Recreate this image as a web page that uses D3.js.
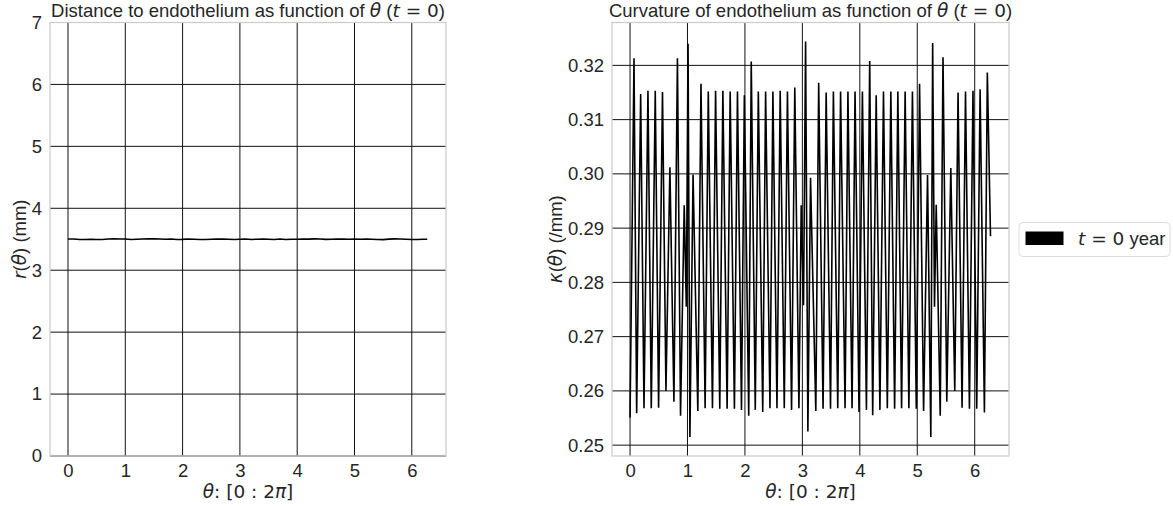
<!DOCTYPE html>
<html><head><meta charset="utf-8">
<script src="https://cdn.jsdelivr.net/npm/d3@7"></script>
<style>
html,body{margin:0;padding:0;background:#fff;}
svg{display:block;}
text{font-family:"Liberation Sans",Arial,sans-serif;fill:#262626;}
.m{font-family:"DejaVu Sans",sans-serif;}
</style></head>
<body>
<svg id="c" width="1173" height="506"></svg>
<script>
// ---- data ----
const xTicks = [0,1,2,3,4,5,6];
const rTicks = [0,1,2,3,4,5,6,7];
const kTicks = [0.25,0.26,0.27,0.28,0.29,0.30,0.31,0.32];

// left panel: r(theta), nearly flat at ~3.5 mm
const rTheta = [0.00,0.10,0.20,0.30,0.40,0.50,0.60,0.70,0.80,0.90,1.00,1.10,1.20,1.30,1.40,1.50,1.60,1.70,1.80,1.90,2.00,2.10,2.20,2.30,2.40,2.50,2.60,2.70,2.80,2.90,3.00,3.10,3.20,3.30,3.40,3.50,3.60,3.70,3.80,3.90,4.00,4.10,4.20,4.30,4.40,4.50,4.60,4.70,4.80,4.90,5.00,5.10,5.20,5.30,5.40,5.50,5.60,5.70,5.80,5.90,6.00,6.10,6.20,6.27];
const rValue = [3.505,3.503,3.497,3.495,3.500,3.496,3.497,3.503,3.508,3.504,3.504,3.497,3.501,3.505,3.506,3.508,3.505,3.500,3.503,3.497,3.498,3.503,3.501,3.497,3.495,3.499,3.505,3.502,3.500,3.496,3.500,3.505,3.497,3.501,3.505,3.500,3.496,3.503,3.497,3.501,3.500,3.503,3.502,3.506,3.504,3.498,3.500,3.504,3.502,3.499,3.502,3.500,3.505,3.500,3.496,3.494,3.502,3.506,3.503,3.500,3.497,3.496,3.500,3.500];

// right panel: kappa(theta), alternating troughs/peaks
const kTheta = [0.00,0.069,0.115,0.185,0.243,0.312,0.370,0.439,0.497,0.565,0.625,0.694,0.764,0.825,0.879,0.943,0.980,1.010,1.042,1.097,1.180,1.235,1.307,1.362,1.435,1.489,1.562,1.616,1.690,1.743,1.817,1.870,1.940,1.990,2.066,2.110,2.180,2.233,2.310,2.360,2.436,2.487,2.558,2.614,2.685,2.740,2.812,2.868,2.940,2.980,3.020,3.056,3.096,3.142,3.234,3.284,3.360,3.414,3.490,3.540,3.616,3.665,3.743,3.793,3.865,3.917,3.986,4.045,4.115,4.172,4.224,4.285,4.350,4.412,4.479,4.540,4.606,4.662,4.727,4.789,4.854,4.916,4.983,5.040,5.110,5.179,5.236,5.268,5.300,5.330,5.400,5.448,5.514,5.584,5.653,5.710,5.780,5.840,5.908,5.970,6.035,6.094,6.169,6.220,6.275];
const kValue = [0.2551,0.3213,0.2559,0.3147,0.2568,0.3153,0.2568,0.3153,0.2569,0.3151,0.2600,0.3012,0.2580,0.3213,0.2554,0.2942,0.2755,0.3240,0.2515,0.2999,0.2563,0.3166,0.2568,0.3152,0.2568,0.3153,0.2567,0.3153,0.2567,0.3152,0.2567,0.3152,0.2565,0.3145,0.2554,0.3207,0.2565,0.3152,0.2561,0.3152,0.2568,0.3152,0.2568,0.3153,0.2568,0.3152,0.2565,0.3159,0.2568,0.2942,0.2758,0.3244,0.2525,0.2993,0.2563,0.3168,0.2567,0.3150,0.2567,0.3152,0.2568,0.3152,0.2568,0.3152,0.2568,0.3152,0.2561,0.3152,0.2565,0.3208,0.2555,0.3145,0.2565,0.3152,0.2568,0.3152,0.2567,0.3152,0.2568,0.3152,0.2568,0.3152,0.2567,0.3166,0.2563,0.2998,0.2515,0.3241,0.2755,0.2943,0.2554,0.3215,0.2580,0.3011,0.2600,0.3150,0.2569,0.3152,0.2567,0.3153,0.2567,0.3156,0.2560,0.3187,0.2885];

// ---- drawing ----
const svg = d3.select("#c");
const yTop = 22.5, yBottom = 456;
const xDom = [-0.314, 6.597];
const FS = 18.5;

function panel(x0, x1, yScale, yTicks, yFmt, thetaArr, valArr, title, ylabelParts, ylabelX) {
  const x = d3.scaleLinear().domain(xDom).range([x0, x1]);
  const g = svg.append("g");
  g.selectAll(".gx").data(xTicks).join("line")
    .attr("x1", d => x(d)).attr("x2", d => x(d)).attr("y1", yTop).attr("y2", yBottom)
    .attr("stroke", "#111").attr("stroke-width", 1);
  g.selectAll(".gy").data(yTicks).join("line")
    .attr("x1", x0).attr("x2", x1).attr("y1", d => yScale(d)).attr("y2", d => yScale(d))
    .attr("stroke", "#111").attr("stroke-width", 1);
  g.append("rect").attr("x", x0).attr("y", yTop).attr("width", x1 - x0).attr("height", yBottom - yTop)
    .attr("fill", "none").attr("stroke", "#cccccc").attr("stroke-width", 1.25);
  const line = d3.line().x((d, i) => x(thetaArr[i])).y(d => yScale(d));
  g.append("path").datum(valArr).attr("d", line).attr("fill", "none")
    .attr("stroke", "#000").attr("stroke-width", 1.6).attr("stroke-linejoin", "miter").attr("stroke-miterlimit", 3);
  const ax = g.append("g").attr("transform", `translate(0,${yBottom})`)
    .call(d3.axisBottom(x).tickValues(xTicks).tickSize(0).tickPadding(8).tickFormat(d3.format("d")));
  ax.select(".domain").remove();
  ax.selectAll("text").attr("font-size", FS).attr("font-family", "Liberation Sans, Arial, sans-serif").attr("fill", "#262626");
  const ay = g.append("g").attr("transform", `translate(${x0},0)`)
    .call(d3.axisLeft(yScale).tickValues(yTicks).tickSize(0).tickPadding(8).tickFormat(yFmt));
  ay.select(".domain").remove();
  ay.selectAll("text").attr("font-size", FS).attr("font-family", "Liberation Sans, Arial, sans-serif").attr("fill", "#262626");
  const t = g.append("text").attr("x", (x0 + x1) / 2).attr("y", 17).attr("text-anchor", "middle").attr("font-size", 18.5);
  t.append("tspan").text(title);
  t.append("tspan").attr("class", "m").attr("font-style", "italic").text("θ");
  t.append("tspan").text(" (");
  t.append("tspan").attr("class", "m").attr("font-style", "italic").text("t");
  t.append("tspan").attr("class", "m").text(" = 0");
  t.append("tspan").text(")");
  const xl = g.append("text").attr("x", (x0 + x1) / 2).attr("y", 498).attr("text-anchor", "middle").attr("font-size", FS);
  xl.append("tspan").attr("class", "m").attr("font-style", "italic").text("θ");
  xl.append("tspan").attr("class", "m").text(": [0 : 2");
  xl.append("tspan").attr("class", "m").attr("font-style", "italic").text("π");
  xl.append("tspan").attr("class", "m").text("]");
  const yl = g.append("text").attr("transform", `translate(${ylabelX},${(yTop + yBottom) / 2}) rotate(-90)`)
    .attr("text-anchor", "middle").attr("font-size", FS);
  ylabelParts.forEach(p => {
    const s = yl.append("tspan").text(p[0]);
    if (p[1]) s.attr("class", "m").attr("font-style", "italic");
  });
}

const yR = d3.scaleLinear().domain([0, 7]).range([yBottom, yTop]);
panel(50, 446, yR, rTicks, d3.format("d"), rTheta, rValue,
  "Distance to endothelium as function of ", [["r", 1], ["(", 0], ["θ", 1], [") (mm)", 0]], 26);

const yK = d3.scaleLinear().domain([0.2480, 0.3279]).range([yBottom, yTop]);
panel(612, 1009, yK, kTicks, d3.format(".2f"), kTheta, kValue,
  "Curvature of endothelium as function of ", [["κ", 1], ["(", 0], ["θ", 1], [") (/mm)", 0]], 562);

const lg = svg.append("g");
lg.append("rect").attr("x", 1019).attr("y", 222.5).attr("width", 151).attr("height", 34).attr("rx", 4)
  .attr("fill", "#fff").attr("stroke", "#dcdcdc").attr("stroke-width", 1);
lg.append("rect").attr("x", 1025.5).attr("y", 231.5).attr("width", 38).attr("height", 13.5).attr("fill", "#000");
const lt = lg.append("text").attr("x", 1078).attr("y", 245).attr("font-size", FS);
lt.append("tspan").attr("class", "m").attr("font-style", "italic").text("t");
lt.append("tspan").attr("class", "m").text(" = 0");
lt.append("tspan").text(" year");
</script>
</body></html>
